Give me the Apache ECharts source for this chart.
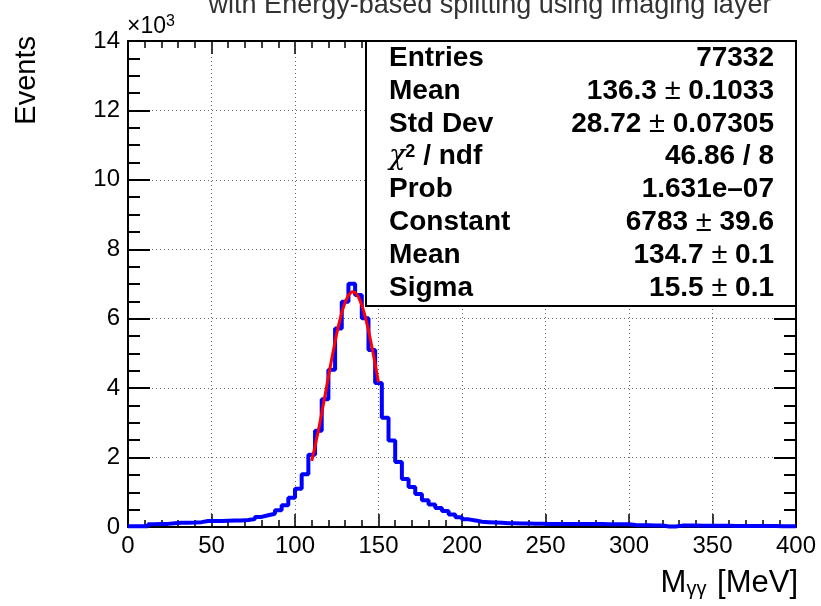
<!DOCTYPE html>
<html>
<head>
<meta charset="utf-8">
<script src="https://cdn.jsdelivr.net/npm/echarts@6/dist/echarts.min.js"></script>
<style>
  html, body { margin: 0; padding: 0; background: #fff; }
  #main { width: 821px; height: 606px; }
</style>
</head>
<body>
<div id="main"></div>
<script>
// histogram: 100 bins of 4 MeV from 0 to 400
const binLow = 0;
const binWidth = 4;
const counts = [
  20, 20, 20, 80, 85, 90, 110, 120, 125, 130,
  140, 170, 175, 175, 180, 185, 190, 200, 230, 290,
  340, 380, 480, 630, 840, 1100, 1520, 2080, 2770, 3680,
  4530, 5720, 6490, 7010, 6680, 6010, 5100, 4150, 3150, 2490,
  1870, 1380, 1150, 950, 770, 650, 550, 460, 360, 280,
  220, 190, 150, 140, 130, 120, 110, 105, 100, 100,
  95, 95, 90, 90, 90, 90, 85, 85, 85, 85,
  85, 80, 80, 80, 80, 55, 50, 50, 45, 45,
  15, 15, 40, 40, 40, 38, 38, 35, 35, 35,
  32, 32, 30, 30, 30, 28, 28, 25, 25, 25
];

// gaussian fit curve
const fitX = [110, 112, 114, 116, 118, 120, 122, 124, 126, 128, 130,
              132, 134, 136, 138, 140, 142, 144, 146, 148, 150];
const fitY = [1905, 2321, 2780, 3276, 3797, 4326, 4849, 5345, 5795, 6178, 6478,
              6681, 6776, 6759, 6631, 6398, 6071, 5666, 5201, 4694, 4167];

const yTickLabels = ["0", "2", "4", "6", "8", "10", "12", "14"];

const statNames = ["Entries", "Mean", "Std Dev", "{chi|χ}{sup|2} / ndf", "Prob", "Constant", "Mean", "Sigma"];
const statValues = ["77332", "136.3 {pm|±} 0.1033", "28.72 {pm|±} 0.07305", "46.86 / 8",
                    "1.631e–07", "6783 {pm|±} 39.6", "134.7 {pm|±} 0.1", "15.5 {pm|±} 0.1"];

const FONT = "'Liberation Sans', Arial, Helvetica, sans-serif";

const histData = counts.map((c, i) => [binLow + i * binWidth, c]);
histData.push([binLow + counts.length * binWidth, counts[counts.length - 1]]);
const fitData = fitX.map((x, i) => [x, fitY[i]]);

const chart = echarts.init(document.getElementById("main"));

const tickCommon = {
  axisLine: { show: true, onZero: false, lineStyle: { color: "#000", width: 2 } },
  splitLine: { show: false }
};

const statRich = {
  pm: { fontFamily: FONT, fontSize: 29, fontWeight: "normal", color: "#000" },
  chi: { fontFamily: "'DejaVu Serif', serif", fontSize: 27, fontStyle: "italic", fontWeight: "normal", color: "#000" },
  sup: { fontFamily: FONT, fontSize: 18, fontWeight: "bold", color: "#000", verticalAlign: "top", padding: [0, 0, 10, 0] }
};

const graphics = [
  {
    type: "text", z: 10,
    style: { x: 490, y: 6, text: "with Energy-based splitting using imaging layer", fill: "#333",
             fontSize: 27, fontFamily: FONT, textAlign: "center", textVerticalAlign: "middle" }
  },
  {
    type: "text", z: 10,
    style: { x: 127, y: 39, text: "×10{s|3}", fill: "#000", fontSize: 23, fontFamily: FONT,
             textAlign: "left", textVerticalAlign: "bottom",
             rich: { s: { fontSize: 16, fontFamily: FONT, color: "#000", verticalAlign: "top", padding: [0, 0, 9, 0] } } }
  },
  {
    type: "text", z: 10, x: 27, y: 36, rotation: Math.PI / 2,
    style: { x: 0, y: 0, text: "Events", fill: "#000", fontSize: 29, fontFamily: FONT,
             textAlign: "right", textVerticalAlign: "middle" }
  },
  {
    type: "text", z: 10,
    style: { x: 798, y: 599, text: "{m|M}{s|γγ}{m| [MeV]}", fill: "#000",
             textAlign: "right", textVerticalAlign: "bottom",
             rich: {
               m: { fontFamily: FONT, fontSize: 31, color: "#000" },
               s: { fontFamily: FONT, fontSize: 20, color: "#000", verticalAlign: "bottom", padding: [0, 2, 0, 0] }
             } }
  },
  {
    type: "rect", z: 20,
    shape: { x: 366, y: 41, width: 430, height: 265 },
    style: { fill: "#fff", stroke: "#000", lineWidth: 2 }
  }
];

statNames.forEach((name, i) => {
  const y = 58 + i * 32.9;
  graphics.push({
    type: "text", z: 21,
    style: { x: 389, y: y, text: name, fill: "#000", fontSize: 28, fontWeight: "bold", fontFamily: FONT,
             textAlign: "left", textVerticalAlign: "middle", rich: statRich }
  });
  graphics.push({
    type: "text", z: 21,
    style: { x: 774, y: y, text: statValues[i], fill: "#000", fontSize: 28, fontWeight: "bold", fontFamily: FONT,
             textAlign: "right", textVerticalAlign: "middle", rich: statRich }
  });
});

const option = {
  animation: false,
  backgroundColor: "#fff",
  grid: { left: 128, top: 41, right: 25, bottom: 79, containLabel: false, outerBoundsMode: "none" },
  xAxis: [
    {
      type: "value", position: "bottom", min: 0, max: 400, interval: 50,
      ...tickCommon,
      axisTick: { show: true, inside: true, length: 13, lineStyle: { color: "#000", width: 1.5 } },
      minorTick: { show: true, splitNumber: 5, length: 7, lineStyle: { color: "#000", width: 1.5 } },
      splitLine: { show: true, lineStyle: { color: "#666", width: 1, type: [1, 3] } },
      axisLabel: { show: true, fontSize: 24, fontFamily: FONT, color: "#000", margin: 7,
                   showMinLabel: true, showMaxLabel: true, hideOverlap: false }
    },
    {
      type: "value", position: "top", min: 0, max: 400, interval: 50,
      ...tickCommon,
      axisTick: { show: true, inside: true, length: 13, lineStyle: { color: "#000", width: 1.5 } },
      minorTick: { show: true, splitNumber: 5, length: 7, lineStyle: { color: "#000", width: 1.5 } },
      axisLabel: { show: false }
    }
  ],
  yAxis: [
    {
      type: "value", position: "left", min: 0, max: 14000, interval: 2000,
      ...tickCommon,
      axisTick: { show: true, inside: true, length: 22, lineStyle: { color: "#000", width: 2 } },
      minorTick: { show: true, splitNumber: 4, length: 12, lineStyle: { color: "#000", width: 2 } },
      splitLine: { show: true, lineStyle: { color: "#666", width: 1, type: [1, 3] } },
      axisLabel: { show: true, fontSize: 24, fontFamily: FONT, color: "#000", margin: 8,
                   showMinLabel: true, showMaxLabel: true, hideOverlap: false,
                   formatter: (v) => yTickLabels[Math.round(v / 2000)] }
    },
    {
      type: "value", position: "right", min: 0, max: 14000, interval: 2000,
      ...tickCommon,
      axisTick: { show: true, inside: true, length: 22, lineStyle: { color: "#000", width: 2 } },
      minorTick: { show: true, splitNumber: 4, length: 12, lineStyle: { color: "#000", width: 2 } },
      axisLabel: { show: false }
    }
  ],
  series: [
    {
      name: "hist", type: "line", step: "end", data: histData,
      xAxisIndex: 0, yAxisIndex: 0, showSymbol: false, symbol: "none",
      lineStyle: { color: "#0000ff", width: 4 }, z: 3
    },
    {
      name: "fit", type: "line", data: fitData, smooth: false,
      xAxisIndex: 0, yAxisIndex: 0, showSymbol: false, symbol: "none",
      lineStyle: { color: "#ff0000", width: 3 }, z: 4
    }
  ],
  graphic: graphics
};

chart.setOption(option);
</script>
</body>
</html>
